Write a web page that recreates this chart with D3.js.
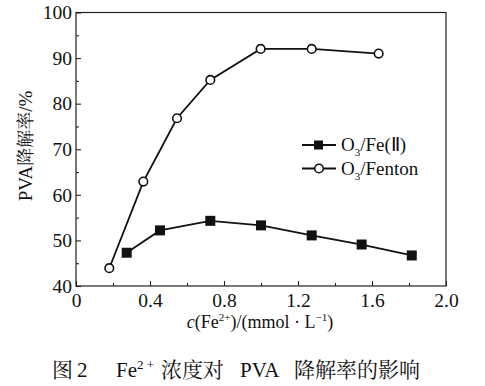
<!DOCTYPE html>
<html>
<head>
<meta charset="utf-8">
<script src="https://cdn.jsdelivr.net/npm/d3@7.9.0/dist/d3.min.js"></script>
</head>
<body style="margin:0;background:#fff">
<div id="chart"></div>
<script>
// data
const feX = [0.274, 0.454, 0.726, 1.0, 1.274, 1.544, 1.815];
const feY = [47.3, 52.2, 54.3, 53.3, 51.1, 49.1, 46.7];
const fentonX = [0.18, 0.364, 0.546, 0.726, 0.998, 1.274, 1.636];
const fentonY = [43.9, 62.9, 76.8, 85.2, 92.0, 92.0, 91.0];
const xTicks = [0, 0.4, 0.8, 1.2, 1.6, 2.0];
const yTicks = [40, 50, 60, 70, 80, 90, 100];

const SERIF = "'Liberation Serif'";
const CJK = "'Noto Serif CJK SC'";

const width = 485, height = 386;
const area = { left: 76, right: 446, top: 12.5, bottom: 286 };

const svg = d3.select('#chart').append('svg')
  .attr('width', width).attr('height', height)
  .style('display', 'block');

const x = d3.scaleLinear().domain([0, 2]).range([area.left, area.right]);
const y = d3.scaleLinear().domain([40, 100]).range([area.bottom, area.top]);

// frame
svg.append('rect')
  .attr('x', area.left).attr('y', area.top)
  .attr('width', area.right - area.left).attr('height', area.bottom - area.top)
  .attr('fill', 'none').attr('stroke', '#222').attr('stroke-width', 1.2);

// minor ticks
const minorX = d3.range(0.2, 2, 0.4);
const minorY = d3.range(45, 100, 10);

svg.append('g')
  .attr('transform', `translate(0,${area.bottom})`)
  .call(d3.axisBottom(x).tickValues(xTicks).tickSize(-5).tickPadding(7)
    .tickFormat(d => d === 0 ? '0' : d3.format('.1f')(d)));
svg.append('g')
  .attr('transform', `translate(0,${area.bottom})`)
  .call(d3.axisBottom(x).tickValues(minorX).tickSize(-3).tickFormat(''));

svg.append('g')
  .attr('transform', `translate(${area.left},0)`)
  .call(d3.axisLeft(y).tickValues(yTicks).tickSize(-5).tickPadding(4));
svg.append('g')
  .attr('transform', `translate(${area.left},0)`)
  .call(d3.axisLeft(y).tickValues(minorY).tickSize(-3).tickFormat(''));

svg.selectAll('.domain').remove();
svg.selectAll('.tick line').attr('stroke', '#222').attr('stroke-width', 1.1);
svg.selectAll('g').attr('font-family', null);
svg.selectAll('.tick text')
  .style('font-family', SERIF)
  .style('font-size', '19.5px').style('fill', '#111');

// lines
const line = d3.line().x(d => x(d[0])).y(d => y(d[1]));
const fe = d3.zip(feX, feY);
const fenton = d3.zip(fentonX, fentonY);

svg.append('path').datum(fenton).attr('d', line)
  .attr('fill', 'none').attr('stroke', '#111').attr('stroke-width', 1.8);
svg.append('path').datum(fe).attr('d', line)
  .attr('fill', 'none').attr('stroke', '#111').attr('stroke-width', 1.8);

svg.append('g').selectAll('circle').data(fenton).join('circle')
  .attr('cx', d => x(d[0])).attr('cy', d => y(d[1])).attr('r', 4.3)
  .attr('fill', '#fff').attr('stroke', '#111').attr('stroke-width', 1.6);
svg.append('g').selectAll('rect').data(fe).join('rect')
  .attr('x', d => x(d[0]) - 5).attr('y', d => y(d[1]) - 5)
  .attr('width', 10).attr('height', 10).attr('fill', '#111');

// legend
const legend = svg.append('g');
const lg = [
  { y: 145, label: 'Fe(Ⅱ)', sym: 'square' },
  { y: 168.5, label: 'Fenton', sym: 'circle' }
];
lg.forEach(d => {
  legend.append('line').attr('x1', 302).attr('x2', 336).attr('y1', d.y).attr('y2', d.y)
    .attr('stroke', '#111').attr('stroke-width', 1.8);
  if (d.sym === 'square') {
    legend.append('rect').attr('x', 314).attr('y', d.y - 4.5).attr('width', 9).attr('height', 9).attr('fill', '#111');
  } else {
    legend.append('circle').attr('cx', 319).attr('cy', d.y).attr('r', 4.3)
      .attr('fill', '#fff').attr('stroke', '#111').attr('stroke-width', 1.6);
  }
  const t = legend.append('text').attr('x', 341).attr('y', d.y + 6)
    .style('font-family', SERIF).style('font-size', '19px').style('fill', '#111');
  t.append('tspan').text('O');
  t.append('tspan').style('font-size', '11px').attr('dy', 5).text('3');
  t.append('tspan').attr('dy', -5).text('/' + d.label);
});

// y label
const yl = svg.append('text')
  .attr('transform', `translate(32,146) rotate(-90)`)
  .attr('text-anchor', 'middle')
  .style('font-family', SERIF).style('font-size', '19px').style('fill', '#111');
yl.append('tspan').text('PVA');
yl.append('tspan').style('font-family', CJK).style('font-size', '18px').text('降解率');
yl.append('tspan').text('/%');

// x label
const xl = svg.append('text')
  .attr('x', 260).attr('y', 328).attr('text-anchor', 'middle')
  .style('font-family', SERIF).style('font-size', '18px').style('fill', '#111');
xl.append('tspan').style('font-style', 'italic').text('c');
xl.append('tspan').text('(Fe');
xl.append('tspan').style('font-size', '11px').attr('dy', -7).text('2+');
xl.append('tspan').attr('dy', 7).text(')/(mmol · L');
xl.append('tspan').style('font-size', '11px').attr('dy', -7).text('−1');
xl.append('tspan').attr('dy', 7).text(')');

// caption
const capY = 377;
const cap = svg.append('g').style('font-size', '21px').style('fill', '#111');
cap.append('text').style('font-family', CJK).attr('x', 52).attr('y', capY).text('图');
cap.append('text').style('font-family', SERIF).attr('x', 77).attr('y', capY).text('2');
const fe2 = cap.append('text').style('font-family', SERIF).attr('x', 116).attr('y', capY);
fe2.append('tspan').text('Fe');
fe2.append('tspan').style('font-size', '13px').attr('dy', -8).text('2 +');
cap.append('text').style('font-family', CJK).attr('x', 161).attr('y', capY).text('浓度对');
cap.append('text').style('font-family', SERIF).attr('x', 240).attr('y', capY).text('PVA');
cap.append('text').style('font-family', CJK).attr('x', 294).attr('y', capY).text('降解率的影响');
</script>
</body>
</html>
